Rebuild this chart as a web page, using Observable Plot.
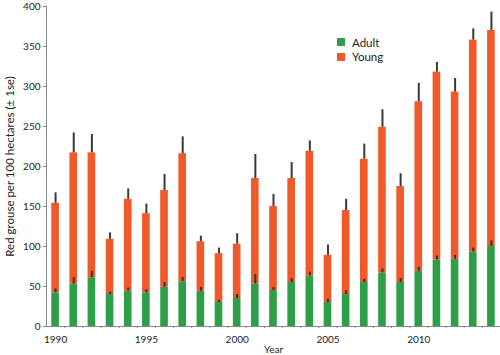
<!DOCTYPE html>
<html><head><meta charset="utf-8">
<script src="https://cdn.jsdelivr.net/npm/d3@7"></script>
<script src="https://cdn.jsdelivr.net/npm/@observablehq/plot@0.6"></script>
<style>
body{margin:0;background:#fff;}
#chart{position:relative;width:500px;height:355px;font-family:Lato,sans-serif;}
.legend{position:absolute;left:337px;top:35px;font-size:11.5px;color:#222;font-family:Lato,sans-serif;}
.legend .row{display:flex;align-items:center;height:14.5px;}
.legend .sw{width:8px;height:8px;margin-right:7px;display:inline-block;}
</style></head><body><div id="chart"></div>
<script>
const years = [1990,1991,1992,1993,1994,1995,1996,1997,1998,1999,2000,2001,2002,2003,2004,2005,2006,2007,2008,2009,2010,2011,2012,2013,2014];
const adult   = [42,53,61,40,44,42,49,56,44,30,35,53,45,55,63,30,40,55,67,55,69,83,84,93,100];
const adultSE = [5,8,8,3,4,4,6,5,5,3,5,12,4,5,5,4,5,4,5,5,5,5,5,5,7];
const young   = [112,164,156,69,115,99,121,160,62,61,68,132,105,130,156,59,105,154,182,120,212,235,209,265,270];
const totalSE = [13,25,23,8,13,12,20,21,7,7,13,30,15,20,13,13,14,19,22,16,23,12,17,14,23];
const seriesNames = ["Adult","Young"];
const seriesColors = ["#2e9e48","#f05a2a"];
const yTicks = [0,50,100,150,200,250,300,350,400];
const xTicks = [1990,1995,2000,2005,2010];

const rows = [];
years.forEach((yr,i)=>{
  rows.push({year:yr, group:"Adult", value:adult[i]});
  rows.push({year:yr, group:"Young", value:young[i]});
});
const errs = years.map((yr,i)=>({
  year:yr,
  adult:adult[i], adultTop:adult[i]+adultSE[i],
  total:adult[i]+young[i], totalTop:adult[i]+young[i]+totalSE[i]
}));

const plot = Plot.plot({
  width:500, height:355,
  marginLeft:46, marginRight:0, marginTop:6, marginBottom:29,
  style:{fontFamily:"Lato, sans-serif", fontSize:"10px", color:"#222", background:"#fff"},
  x:{type:"band", domain:years, paddingInner:0.58, paddingOuter:0.29, round:false},
  y:{domain:[0,400]},
  color:{domain:seriesNames, range:seriesColors},
  marks:[
    Plot.barY(rows,{x:"year", y:"value", fill:"group", order:seriesNames}),
    Plot.ruleX(errs,{x:"year", y1:"adult", y2:"adultTop", stroke:"#333", strokeWidth:2}),
    Plot.ruleX(errs,{x:"year", y1:"total", y2:"totalTop", stroke:"#3a3a3a", strokeWidth:2}),
    Plot.frame({anchor:"left", stroke:"#888"}),
    Plot.ruleY([0],{stroke:"#888"}),
    Plot.axisY({ticks:yTicks, tickSize:3, tickPadding:3, stroke:"#888", label:null}),
    Plot.axisY({ticks:[], label:"Red grouse per 100 hectares (± 1se)", labelAnchor:"center", labelArrow:"none", labelOffset:41, fontSize:11.5}),
    Plot.axisX({ticks:years, tickSize:2, text:null, label:null, dx:9.08, stroke:"#888"}),
    Plot.axisX({ticks:xTicks, tickSize:0, tickPadding:9, tickFormat:d=>String(d), label:"Year", labelAnchor:"center", labelArrow:"none", labelOffset:26})
  ]
});
const chart = document.getElementById("chart");
chart.appendChild(plot);
const legend = document.createElement("div");
legend.className = "legend";
seriesNames.forEach((n,i)=>{
  const r = document.createElement("div"); r.className="row";
  const s = document.createElement("span"); s.className="sw"; s.style.background=seriesColors[i];
  r.appendChild(s); r.appendChild(document.createTextNode(n));
  legend.appendChild(r);
});
chart.appendChild(legend);
</script></body></html>
